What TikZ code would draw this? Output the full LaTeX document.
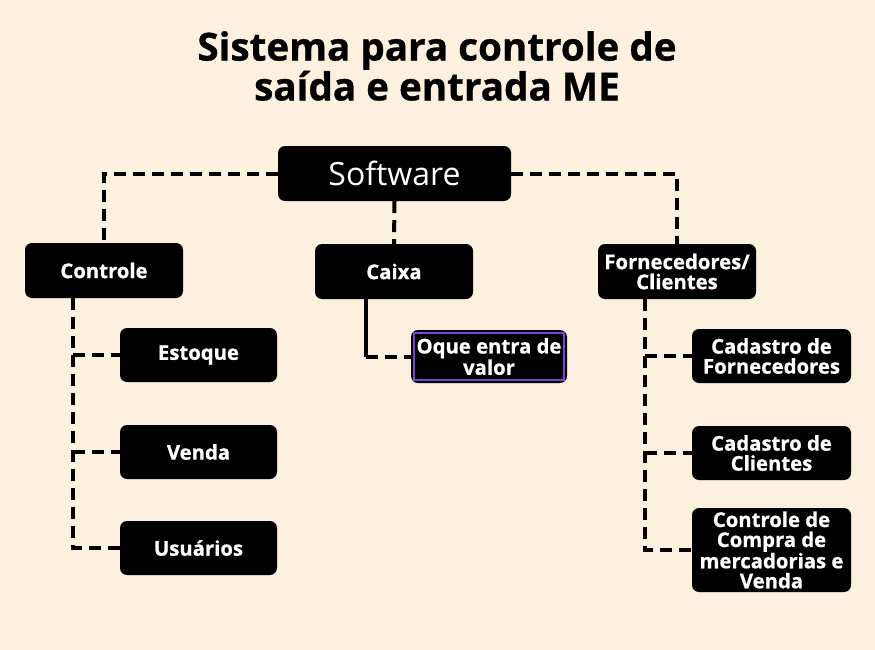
\documentclass[tikz,border=0pt]{standalone}
\usepackage{fontspec}
\setmainfont{Open Sans}[BoldFeatures={FakeBold=0.8}]
\definecolor{bg}{RGB}{253,240,223}
\definecolor{purp}{RGB}{123,63,228}
\begin{document}
\begin{tikzpicture}[x=1pt,y=-1pt,
  box/.style={fill=black,rounded corners=7pt,inner sep=0pt,text=white,font=\bfseries\fontsize{20.3}{20}\selectfont,align=center},
  conn/.style={line width=4pt,dash pattern=on 12pt off 7pt},
  solidconn/.style={line width=4pt}]
\fill[bg] (0,0) rectangle (875,650);
\useasboundingbox (0,0) rectangle (875,650);
\node[font=\bfseries\fontsize{38.6}{37}\selectfont,align=center] (title) at (437,66) {Sistema para controle de\\saída e entrada ME};
\node[box,minimum width=233pt,minimum height=55pt,font=\fontsize{32}{34}\selectfont] (sw) at (394.5,173.5) {Software};
\node[box,minimum width=158pt,minimum height=55pt] (ctl) at (104,270.5) {Controle};
\node[box,minimum width=158pt,minimum height=55pt] (cx) at (394,271.5) {Caixa};
\node[box,minimum width=158pt,minimum height=55pt] (fc) at (677,271.5) {Fornecedores/\\Clientes};
\node[box,minimum width=157pt,minimum height=54pt] (est) at (198.5,355) {Estoque};
\node[box,minimum width=157pt,minimum height=54pt] (ven) at (198.5,452) {Venda};
\node[box,minimum width=157pt,minimum height=54pt] (usu) at (198.5,548) {Usuários};
\node[box,minimum width=156pt,minimum height=53pt] (oq) at (489,356.5) {Oque entra de\\valor};
\draw[purp,line width=2pt] ([xshift=3pt,yshift=-3pt]oq.north west) rectangle ([xshift=-3pt,yshift=3pt]oq.south east);
\node[box,minimum width=159pt,minimum height=54pt] (cf) at (771.5,356) {Cadastro de\\Fornecedores};
\node[box,minimum width=159pt,minimum height=54pt] (cc) at (771.5,453) {Cadastro de\\Clientes};
\node[box,minimum width=159pt,minimum height=84pt] (cm) at (771.5,550) {Controle de\\Compra de\\mercadorias e\\Venda};
% connectors
\draw[conn] (sw.west) -| (ctl.north);
\draw[conn] (sw.east) -| (fc.north);
\draw[conn] (sw.south) -- (cx.north);
\coordinate (lx) at (73,0);
\draw[conn] (ctl.south -| lx) |- (usu.west);
\draw[conn] (est.west -| lx) -- (est.west);
\draw[conn] (ven.west -| lx) -- (ven.west);
\coordinate (cxx) at (366,0);
\draw[solidconn] (cx.south -| cxx) -- (oq.west -| cxx);
\draw[conn] (oq.west -| cxx) -- (oq.west);
\coordinate (rx) at (645,0);
\draw[conn] (fc.south -| rx) |- (cm.west);
\draw[conn] (cf.west -| rx) -- (cf.west);
\draw[conn] (cc.west -| rx) -- (cc.west);
\end{tikzpicture}
\end{document}
